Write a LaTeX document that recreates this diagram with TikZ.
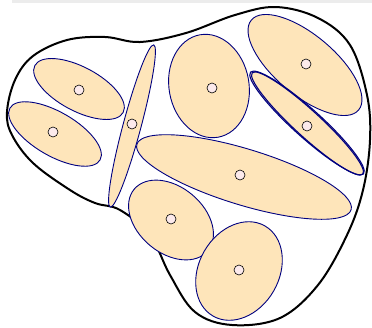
\documentclass[tikz,border=0pt]{standalone}
\begin{document}
\begin{tikzpicture}[x=1pt,y=-1pt,
  blob/.style={draw=black,line width=2pt},
  cell/.style={draw={rgb,255:red,0;green,0;blue,128},fill={rgb,255:red,254;green,229;blue,186},line width=0.9pt},
  cellline/.style={draw={rgb,255:red,0;green,0;blue,128},line width=1.1pt},
  pt/.style={draw=black,fill={rgb,255:red,252;green,234;blue,236},line width=0.6pt}]
\useasboundingbox (0,0) rectangle (372,327);
\fill[gray!15] (12,0) rectangle (372,3);
% outer region
\draw[blob] plot[smooth cycle,tension=0.6] coordinates {
 (7,112) (15,80) (33,56) (67,40) (105,37) (140,42) (186,33) (235,15) (276,7)
 (318,18) (350,45) (367,95) (370,140) (363,190) (347,235) (318,285) (280,318)
 (232,325) (195,312) (170,275) (150,235) (120,210) (95,203) (70,190) (33,163) (12,135)};
% ellipses
\draw[cell,rotate around={-28:(79,89)}] (79,89) ellipse (50 and 22);
\draw[cell,rotate around={-30:(55,134)}] (55,134) ellipse (52 and 22);
\draw[cell,rotate around={75:(132,126)}] (132,126) ellipse (84 and 9);
\draw[cell,rotate around={-80:(209,86)}] (209,86) ellipse (52 and 40);
\draw[cell,rotate around={-40:(305,65)}] (305,65) ellipse (70 and 30);
\draw[cell,line width=1.1pt,rotate around={-42:(307,123)}] (307,123) ellipse (76 and 14);
\draw[cellline,rotate around={-42.5:(307.5,123.5)}] (307.5,123.5) ellipse (75 and 13);
\draw[cell,rotate around={-17:(244,177)}] (244,177) ellipse (112 and 28);
\draw[cell,rotate around={-40:(171,220)}] (171,220) ellipse (48 and 33);
\draw[cell,rotate around={60:(239,271)}] (239,271) ellipse (52 and 40);
% points
\foreach \p/\n in {(79,90)/p1,(53,132)/p2,(132,124)/p3,(212,88)/p4,(306,64)/p5,(307,126)/p6,(240,175)/p7,(171,219)/p8,(239,270)/p9}
  \node[pt,circle,inner sep=0pt,minimum size=10pt] (\n) at \p {};
\end{tikzpicture}
\end{document}
